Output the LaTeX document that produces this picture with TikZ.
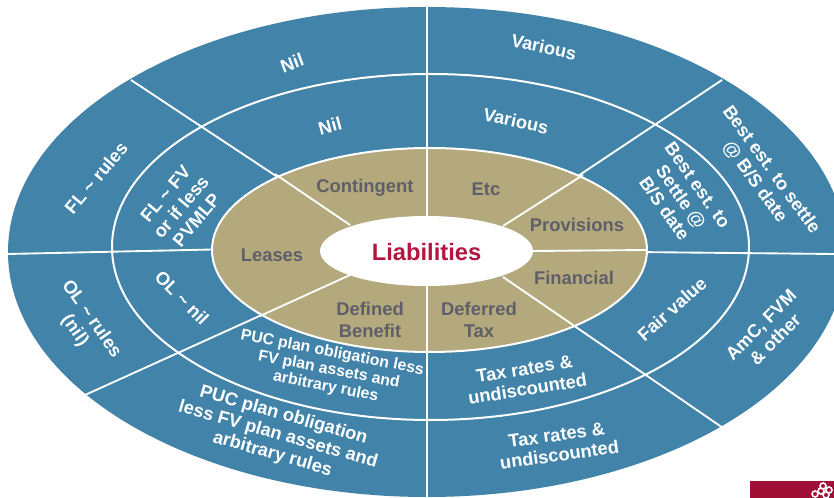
\documentclass[tikz,border=0pt]{standalone}
\usepackage{fontspec}
\setmainfont{Liberation Sans}
\usetikzlibrary{shapes.geometric}
\definecolor{ringblue}{HTML}{4183A9}
\definecolor{ringtan}{HTML}{B3A97C}
\definecolor{inkgrey}{HTML}{5F5F69}
\definecolor{crimson}{HTML}{B2173F}
\definecolor{logored}{HTML}{A00F35}
\tikzset{
  ring/.style={draw=none,ellipse,inner sep=0pt,outer sep=0pt},
  spoke/.style={draw=white,line width=1.4pt},
  wt/.style={text=white,font=\bfseries\fontsize{13.7}{15.2}\selectfont,align=center,inner sep=0pt},
  wtsmall/.style={text=white,font=\bfseries\fontsize{11.9}{13}\selectfont,align=center,inner sep=0pt},
  gt/.style={text=inkgrey,font=\bfseries\fontsize{13.8}{16}\selectfont,align=center,inner sep=0pt},
}
\begin{document}
\begin{tikzpicture}[x=0.75pt,y=-0.75pt]
\useasboundingbox (0,0) rectangle (834,498);
\begin{scope}
\clip (0,0) rectangle (834,498);
\node[ring,fill=ringblue,minimum width=838*0.75pt,minimum height=490*0.75pt] (outer) at (427,252) {};
\coordinate (ot) at (427,7);
\coordinate (ob) at (427,498);
\coordinate (ol) at (8,254);
\coordinate (or) at (834,254);
\coordinate (otl) at (131,80);
\coordinate (otr) at (722,80);
\coordinate (obl) at (85,395);
\coordinate (obr) at (723,428);
\coordinate (hl) at (212,249.5);
\coordinate (hr) at (533,251);
\coordinate (htl) at (350,225);
\coordinate (htr) at (503,226);
\coordinate (hbl) at (350,275);
\coordinate (hbr) at (503,277);
\node[ring,draw=white,line width=1.5pt,minimum width=637*0.75pt,minimum height=346*0.75pt] (middle) at (430.5,247) {};
\draw[spoke] (ot) -- (427,200);
\draw[spoke] (ob) -- (427,300);
\draw[spoke] (ol) -- (hl);
\draw[spoke] (otl) -- (htl);
\draw[spoke] (otr) -- (htr);
\draw[spoke] (obl) -- (hbl);
\draw[spoke] (obr) -- (hbr);
\draw[spoke] (or) -- (hr);
\node[ring,fill=ringtan,draw=white,line width=1.5pt,minimum width=435*0.75pt,minimum height=204*0.75pt] (tan) at (429.5,250) {};
\draw[spoke] (427,149) -- (427,252);
\draw[spoke] (427,351) -- (427,252);
\draw[spoke] (tan.east) -- (hr);
\draw[spoke] (275,174) -- (htl);
\draw[spoke] (583,175) -- (htr);
\draw[spoke] (260,316) -- (hbl);
\draw[spoke] (576,327) -- (hbr);
\node[ring,fill=white,minimum width=213*0.75pt,minimum height=70*0.75pt] (hub) at (426.5,251) {};
\end{scope}
\node[text=crimson,font=\bfseries\fontsize{17.8}{20}\selectfont,inner sep=0pt] (title) at (426.5,252) {Liabilities};
\node[gt] (contingent) at (365,188) {Contingent};
\node[gt] (etc) at (486,189) {Etc};
\node[gt] (provisions) at (577,225) {Provisions};
\node[gt] (financial) at (574,278) {Financial};
\node[gt] (deftax) at (479,320) {Deferred\\Tax};
\node[gt] (defben) at (370,320) {Defined\\Benefit};
\node[gt] (leases) at (272,255) {Leases};
\node[wt,rotate=20] (n1) at (292,63) {Nil};
\node[wt,rotate=-12] (n2) at (544,47) {Various};
\node[wt,rotate=-54] (n3) at (763,176) {Best est. to settle\\@ B/S date};
\node[wt,rotate=45] (n4) at (768,332) {AmC, FVM\\\& other};
\node[wt,rotate=8] (n5) at (558,445) {Tax rates \&\\undiscounted};
\node[wt,rotate=-16] (n6) at (278,435) {PUC plan obligation\\less FV plan assets and\\arbitrary rules};
\node[wt,rotate=-55] (n7) at (83,325) {OL \textasciitilde{} rules\\(nil)};
\node[wt,rotate=50] (n8) at (96,178) {FL \textasciitilde{} rules};
\node[wt,rotate=15] (m1) at (330,126) {Nil};
\node[wt,rotate=-12] (m2) at (516,121) {Various};
\node[wt,rotate=-55] (m3) at (681,197) {Best est. to\\Settle @\\B/S date};
\node[wt,rotate=42] (m4) at (672,309) {Fair value};
\node[wt,rotate=9] (m5) at (526,379) {Tax rates \&\\undiscounted};
\node[wtsmall,rotate=-11] (m6) at (329,370) {PUC plan obligation less\\FV plan assets and\\arbitrary rules};
\node[wt,rotate=-45] (m7) at (182,298) {OL \textasciitilde{} nil};
\node[wt,rotate=50] (m8) at (181,207) {FL \textasciitilde{} FV\\or if less\\PVMLP};
\fill[logored] (750,481) rectangle (834,498);
\draw[white,line width=1.2pt] (815,494) circle (3) (821,491) circle (3) (823,486) circle (3) (829,490) circle (3) (826,495) circle (3);
\end{tikzpicture}
\end{document}
